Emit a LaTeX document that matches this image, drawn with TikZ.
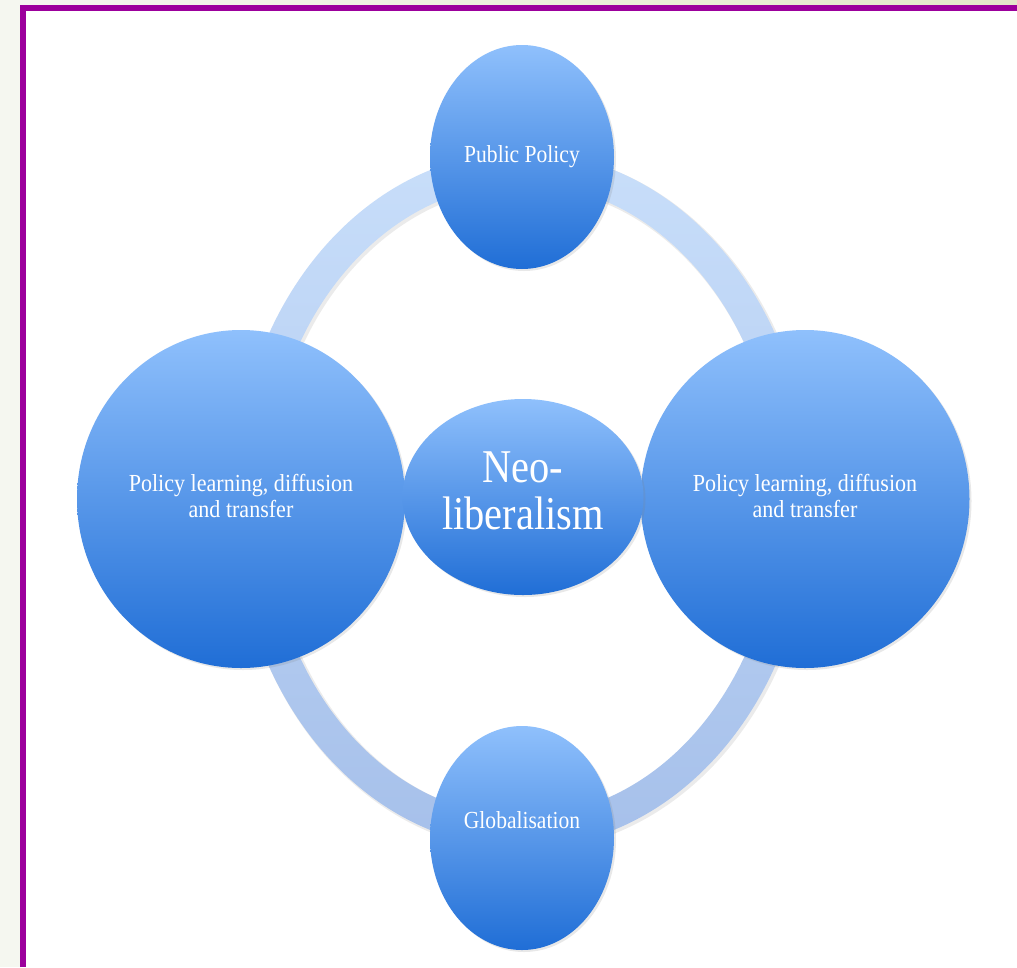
\documentclass[tikz,border=0pt]{standalone}
\usepackage{fontspec}
\setmainfont{Liberation Serif}
\usetikzlibrary{shapes.geometric,shadows}
\definecolor{bgc}{RGB}{245,247,240}
\definecolor{bandc}{RGB}{227,232,201}
\definecolor{framec}{RGB}{156,0,156}
\definecolor{ringtop}{RGB}{200,222,250}
\definecolor{ringbot}{RGB}{166,192,234}
\definecolor{btop}{RGB}{143,192,252}
\definecolor{bmid}{RGB}{108,167,244}
\definecolor{bbot}{RGB}{32,110,214}
\newcommand{\cond}[2][0.9]{\scalebox{#1}[1]{\begin{tabular}{@{}c@{}}#2\end{tabular}}}
\begin{document}
\begin{tikzpicture}[x=1pt,y=-1pt,
  bub/.style={ellipse, inner sep=0pt, outer sep=0pt,
    top color=btop, middle color=bmid, bottom color=bbot,
    drop shadow={opacity=0.18, shadow xshift=2pt, shadow yshift=-2pt},
    text=white},
  smalltxt/.style={font=\fontsize{24.5}{26}\selectfont},
  bigtxt/.style={font=\fontsize{47}{47}\selectfont}]
\useasboundingbox (0,0) rectangle (1017,967);
\fill[bgc] (0,0) rectangle (1017,967);
\shade[left color=bgc, right color=bandc] (23,0) rectangle (1017,8);
\fill[white] (23,8) rectangle (1017,967);
\draw[framec, line width=6pt] (23,967) -- (23,8) -- (1017,8);
% ring
\fill[black, opacity=0.08, even odd rule] (524,502) ellipse [x radius=289, y radius=349]
  (524,502) ellipse [x radius=255, y radius=315];
\shade[top color=ringtop, bottom color=ringbot, even odd rule]
  (522,500) ellipse [x radius=288, y radius=348]
  (522,500) ellipse [x radius=256, y radius=316];
% bubbles
\node[bub, smalltxt, minimum width=184pt, minimum height=224pt] (pp) at (522,157) {\raisebox{-3pt}{\cond[0.88]{Public Policy}}};
\node[bub, smalltxt, minimum width=328pt, minimum height=338pt] (left) at (241,499) {\cond[0.9]{Policy learning, diffusion\\and transfer}};
\node[bub, smalltxt, minimum width=329pt, minimum height=338pt] (right) at (805,499) {\cond[0.9]{Policy learning, diffusion\\and transfer}};
\node[bub, bigtxt, minimum width=241pt, minimum height=196pt] (neo) at (523,497) {\cond[0.86]{Neo-\\liberalism}};
\node[bub, minimum width=184pt, minimum height=224pt,
  label={[smalltxt, text=white, yshift=15pt]center:\cond[0.88]{Globalisation}}] (glob) at (522,838) {};
\end{tikzpicture}
\end{document}
